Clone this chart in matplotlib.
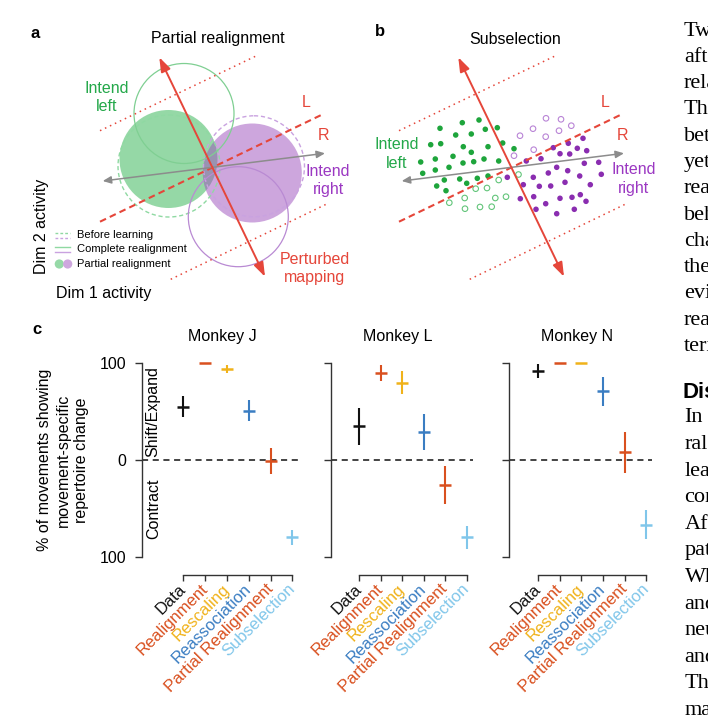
import numpy as np
import matplotlib
matplotlib.use("Agg")
import matplotlib.pyplot as plt
import matplotlib.transforms as mtransforms
from matplotlib.patches import Circle, FancyArrowPatch

W, H = 708, 723

plt.rcParams.update({
    "font.family": ["Liberation Sans", "DejaVu Sans"],
    "font.size": 11.5,
})

# ── Panel c data ─────────────────────────────────────────────────────────────
CATEGORIES = ["Data", "Realignment", "Rescaling", "Reassociation",
              "Partial Realignment", "Subselection"]
CAT_COLORS = ["#111111", "#d9501f", "#f0b21a", "#3a7dc2", "#d9501f", "#80c6ea"]
MONKEYS = ["Monkey J", "Monkey L", "Monkey N"]

J_VALUES = [55, 100, 94, 51, -1, -80]
J_ERR    = [11, 0, 4, 11, 13, 7.5]
L_VALUES = [35, 90, 80, 29, -26, -80]
L_ERR    = [19, 8, 12, 19, 20, 12]
N_VALUES = [92, 100, 100, 71, 8, -67]
N_ERR    = [7.5, 0, 0, 15, 21, 15]

# ── Schematic geometry (pixel space, panel a; panel b reuses the axes) ───────
RED_ARROW   = [(159.3, 57.3), (265.0, 276.7)]
GRAY_ARROW  = [(102.7, 181.0), (325.0, 153.3)]
DASH_LINE   = [(100.0, 221.7), (322.7, 114.3)]
DOT_UPPER   = [(100.0, 130.7), (256.0, 56.0)]
DOT_LOWER   = [(170.7, 279.3), (326.7, 204.0)]
B_SHIFT = 299

# circles: (x, y, r)
GREEN_FILL   = (168.5, 159.0, 49)
GREEN_BEFORE = (169.0, 166.0, 51)
GREEN_FULL   = (184.0, 113.5, 50)
PURPLE_FILL   = (252.3, 173.0, 49.5)
PURPLE_BEFORE = (254.0, 166.3, 50.5)
PURPLE_FULL   = (238.3, 216.7, 50)

# subselection dots
GF_X = [440, 462.3, 479, 455.7, 471.3, 485.3, 497.3, 430.7, 440.7, 463.3, 488, 502.7,
        453, 471.3, 420.7, 435.3, 463, 473.7, 484, 498.7, 422.7, 435.3, 449, 444.3,
        459.7, 466.7, 477.3, 488, 436.7, 446, 514]
GF_Y = [128.3, 122.7, 120, 135, 134, 129.3, 127.7, 144.7, 143.7, 146.7, 146.7, 143,
        156.3, 152.3, 162, 159, 163, 161.7, 159, 161, 173.3, 170, 167.3, 180,
        179, 183.3, 178.3, 176, 186, 190.7, 148.7]
GO_X = [498.7, 475.7, 487, 464.7, 495.3, 506, 449.3, 465, 480, 491.7, 518.5]
GO_Y = [180, 188.7, 188, 198, 198, 196.7, 202.7, 208.7, 207, 206.7, 174.5]
PO_X = [546, 561, 571.3, 533, 559, 520, 545.7, 533.7, 514]
PO_Y = [118.3, 119.3, 125.7, 128.7, 130.7, 135.7, 136.7, 149.7, 155.7]
PF_X = [553.3, 568.3, 583, 560, 569.7, 577.3, 586.7, 526.3, 541, 584.3, 598.7, 507.3,
        548.3, 556.7, 567.7, 579.7, 601.3, 523.3, 533.3, 539.3, 550.7, 565, 590.3,
        520.3, 533.7, 545.7, 560, 572, 580.3, 586, 536, 556.7, 574.3]
PF_Y = [147.7, 143.3, 138.3, 153.7, 154, 148.3, 150.7, 161, 158.7, 163.3, 162.3, 177.3,
        173, 167.3, 170.7, 176, 174.3, 184.7, 177.3, 186.3, 186, 182.3, 184.7,
        198.7, 196.7, 203.7, 198.3, 197.3, 194.7, 201.3, 209.3, 213.7, 209.3]

# article body text running off the right edge of the page
SIDE_TEXT_1 = ["Two", "after", "relative", "The", "between", "yet", "reach",
               "behavior", "change", "the", "evidence", "reassoc", "term"]
SIDE_TEXT_2 = ["In", "ral", "learning", "con", "After", "pat", "When", "and",
               "neu", "and", "The", "may"]

RED = "#e5463a"
GRAY = "#8c8c8c"
GREEN_TXT = "#24a84a"
PURPLE_TXT = "#9b38c2"
GREEN_C = "#2db34f"
PURPLE_C = "#9d4fbd"

fig = plt.figure(figsize=(W / 100, H / 100), dpi=100)
ov = fig.add_axes([0, 0, 1, 1])
ov.set_xlim(0, W)
ov.set_ylim(H, 0)
ov.axis("off")


def seg(p, dx=0, **kw):
    (x0, y0), (x1, y1) = p
    ov.plot([x0 + dx, x1 + dx], [y0, y1], solid_capstyle="butt", **kw)


def darrow(p, dx, color, lw, hl, hw):
    (x0, y0), (x1, y1) = p
    a = FancyArrowPatch((x0 + dx, y0), (x1 + dx, y1),
                        arrowstyle=f"<|-|>,head_length={hl},head_width={hw}",
                        mutation_scale=10, color=color, lw=lw,
                        shrinkA=0, shrinkB=0, zorder=5)
    ov.add_patch(a)


def axes_lines(dx):
    seg(DOT_UPPER, dx, color=RED, lw=1.1, ls=(0, (1, 2.6)))
    seg(DOT_LOWER, dx, color=RED, lw=1.1, ls=(0, (1, 2.6)))
    seg(DASH_LINE, dx, color=RED, lw=1.5, ls=(0, (3.2, 2.0)), zorder=4)
    darrow(GRAY_ARROW, dx, GRAY, 1.1, 0.5, 0.22)
    darrow(RED_ARROW, dx, RED, 1.4, 0.85, 0.3)


# ── Panel a ──────────────────────────────────────────────────────────────────
for (cx, cy, r), col in [(GREEN_FILL, GREEN_C), (PURPLE_FILL, PURPLE_C)]:
    ov.add_patch(Circle((cx, cy), r, facecolor=col, edgecolor="none", alpha=0.5))
for (cx, cy, r), col in [(GREEN_BEFORE, "#8fd9a2"), (PURPLE_BEFORE, "#c9a2e0")]:
    ov.add_patch(Circle((cx, cy), r, facecolor="none", edgecolor=col, lw=1.0,
                        ls=(0, (3, 2))))
for (cx, cy, r), col in [(GREEN_FULL, "#7fcf92"), (PURPLE_FULL, "#b98ad3")]:
    ov.add_patch(Circle((cx, cy), r, facecolor="none", edgecolor=col, lw=0.9))
axes_lines(0)

ov.text(35, 33, "a", fontsize=12, fontweight="bold", ha="center", va="center")
ov.text(218, 39, "Partial realignment", ha="center", va="center")
ov.text(107, 97.5, "Intend\nleft", color=GREEN_TXT, ha="center", va="center",
        linespacing=1.3)
ov.text(328, 180.5, "Intend\nright", color=PURPLE_TXT, ha="center", va="center",
        linespacing=1.3)
ov.text(315, 268.5, "Perturbed\nmapping", color=RED, ha="center", va="center",
        linespacing=1.3)
ov.text(306, 102.7, "L", color=RED, ha="center", va="center")
ov.text(323.3, 135, "R", color=RED, ha="center", va="center")
ov.text(41.7, 226.7, "Dim 2 activity", rotation=90, ha="center", va="center")
ov.text(103.3, 293.3, "Dim 1 activity", ha="center", va="center")

# legend of panel a
ov.plot([55, 70], [233, 233], color="#8fd9a2", lw=1.0, ls=(0, (2, 1.5)))
ov.plot([55, 70], [237.5, 237.5], color="#c9a2e0", lw=1.0, ls=(0, (2, 1.5)))
ov.plot([55, 70], [247, 247], color="#8fd9a2", lw=1.0)
ov.plot([55, 70], [251.5, 251.5], color="#c9a2e0", lw=1.0)
ov.add_patch(Circle((59.3, 264), 4.6, facecolor="#96d9a7", edgecolor="none"))
ov.add_patch(Circle((67.7, 264), 4.6, facecolor="#cea7de", edgecolor="none"))
for y, t in [(235, "Before learning"), (249, "Complete realignment"),
             (264, "Partial realignment")]:
    ov.text(77, y, t, fontsize=8, ha="left", va="center")

# ── Panel b ──────────────────────────────────────────────────────────────────
axes_lines(B_SHIFT)
ov.scatter(GF_X, GF_Y, s=16, color="#1ea53c", edgecolors="none", zorder=3)
ov.scatter(PF_X, PF_Y, s=16, color="#8a2db0", edgecolors="none", zorder=3)
ov.scatter(GO_X, GO_Y, s=16, facecolors="none", edgecolors="#62c57a",
           linewidths=0.8, zorder=3)
ov.scatter(PO_X, PO_Y, s=16, facecolors="none", edgecolors="#b984d6",
           linewidths=0.8, zorder=3)
ov.text(380, 32, "b", fontsize=12, fontweight="bold", ha="center", va="center")
ov.text(515, 39, "Subselection", ha="center", va="center")
ov.text(396.7, 153.7, "Intend\nleft", color=GREEN_TXT, ha="center", va="center",
        linespacing=1.3)
ov.text(633.3, 178.8, "Intend\nright", color=PURPLE_TXT, ha="center", va="center",
        linespacing=1.3)
ov.text(306 + B_SHIFT, 102.7, "L", color=RED, ha="center", va="center")
ov.text(323.3 + B_SHIFT, 135.7, "R", color=RED, ha="center", va="center")

# ── Side text (article body, cut by the page edge) ───────────────────────────
serif = ["Liberation Serif", "DejaVu Serif"]
for i, t in enumerate(SIDE_TEXT_1):
    ov.text(684, 31 + i * 26.3, t, family=serif, fontsize=16, ha="left",
            va="center")
ov.text(683, 392, "Discussion", fontsize=16, fontweight="bold", ha="left",
        va="center")
for i, t in enumerate(SIDE_TEXT_2):
    ov.text(684.5, 418 + i * 26.6, t, family=serif, fontsize=16, ha="left",
            va="center")

# ── Panel c ──────────────────────────────────────────────────────────────────
ov.text(37, 329, "c", fontsize=12, fontweight="bold", ha="center", va="center")
ov.text(63, 460, "% of movements showing\nmovement-specific\nrepertoire change",
        rotation=90, ha="center", va="center", multialignment="center",
        linespacing=1.32)

# pixel layout: left, right, xlim
layouts = [(141.7, 298.0, (-1.91, 5.26)),
           (330.7, 472.7, (-1.33, 5.27)),
           (509.0, 651.7, (-1.34, 5.25))]
top_px, bot_px = 363.3, 556.7
series = [(J_VALUES, J_ERR), (L_VALUES, L_ERR), (N_VALUES, N_ERR)]
x = np.arange(len(CATEGORIES))

for k, ((lpx, rpx, xl), (vals, errs), name) in enumerate(zip(layouts, series, MONKEYS)):
    ax = fig.add_axes([lpx / W, 1 - bot_px / H, (rpx - lpx) / W, (bot_px - top_px) / H])
    ax.set_facecolor("none")
    ax.set_xlim(*xl)
    ax.set_ylim(-100, 100)
    for xi, v, e, c in zip(x, vals, errs, CAT_COLORS):
        ax.errorbar([xi], [v], yerr=[e], fmt="_", ms=8, mew=1.8, elinewidth=1.5,
                    capsize=0, color=c, clip_on=False)
    ax.axhline(0, color="#111111", lw=1.1, ls=(0, (4, 3)), zorder=0)
    for s in ["top", "right"]:
        ax.spines[s].set_visible(False)
    ax.spines["left"].set_bounds(-100, 100)
    ax.spines["left"].set_color("#333333")
    ax.spines["left"].set_linewidth(1.0)
    ax.spines["bottom"].set_position(("outward", 13.2))
    ax.spines["bottom"].set_bounds(0, 5)
    ax.spines["bottom"].set_color("#333333")
    ax.spines["bottom"].set_linewidth(1.0)
    ax.set_yticks([-100, 0, 100])
    if k == 0:
        ax.set_yticklabels(["100", "0", "100"])
        ax.text(-1.38, 50, "Shift/Expand", rotation=90, ha="center", va="center")
        ax.text(-1.38, -50, "Contract", rotation=90, ha="center", va="center")
    else:
        ax.set_yticklabels([])
    ax.tick_params(axis="y", length=5.3, width=1.0, color="#333333", pad=5.5,
                   labelsize=11.5)
    ax.set_xticks(x)
    ax.set_xticklabels(CATEGORIES, rotation=45, ha="right", va="center",
                       rotation_mode="anchor", fontsize=12)
    for lbl, c in zip(ax.get_xticklabels(), CAT_COLORS):
        lbl.set_color(c)
    ax.tick_params(axis="x", length=4.3, width=1.0, color="#333333", pad=4)
    tr = mtransforms.blended_transform_factory(ax.transData, ax.transAxes)
    ax.text(1.78, 1.141, name, transform=tr, ha="center", va="center")

fig.savefig("out.png", dpi=100)
